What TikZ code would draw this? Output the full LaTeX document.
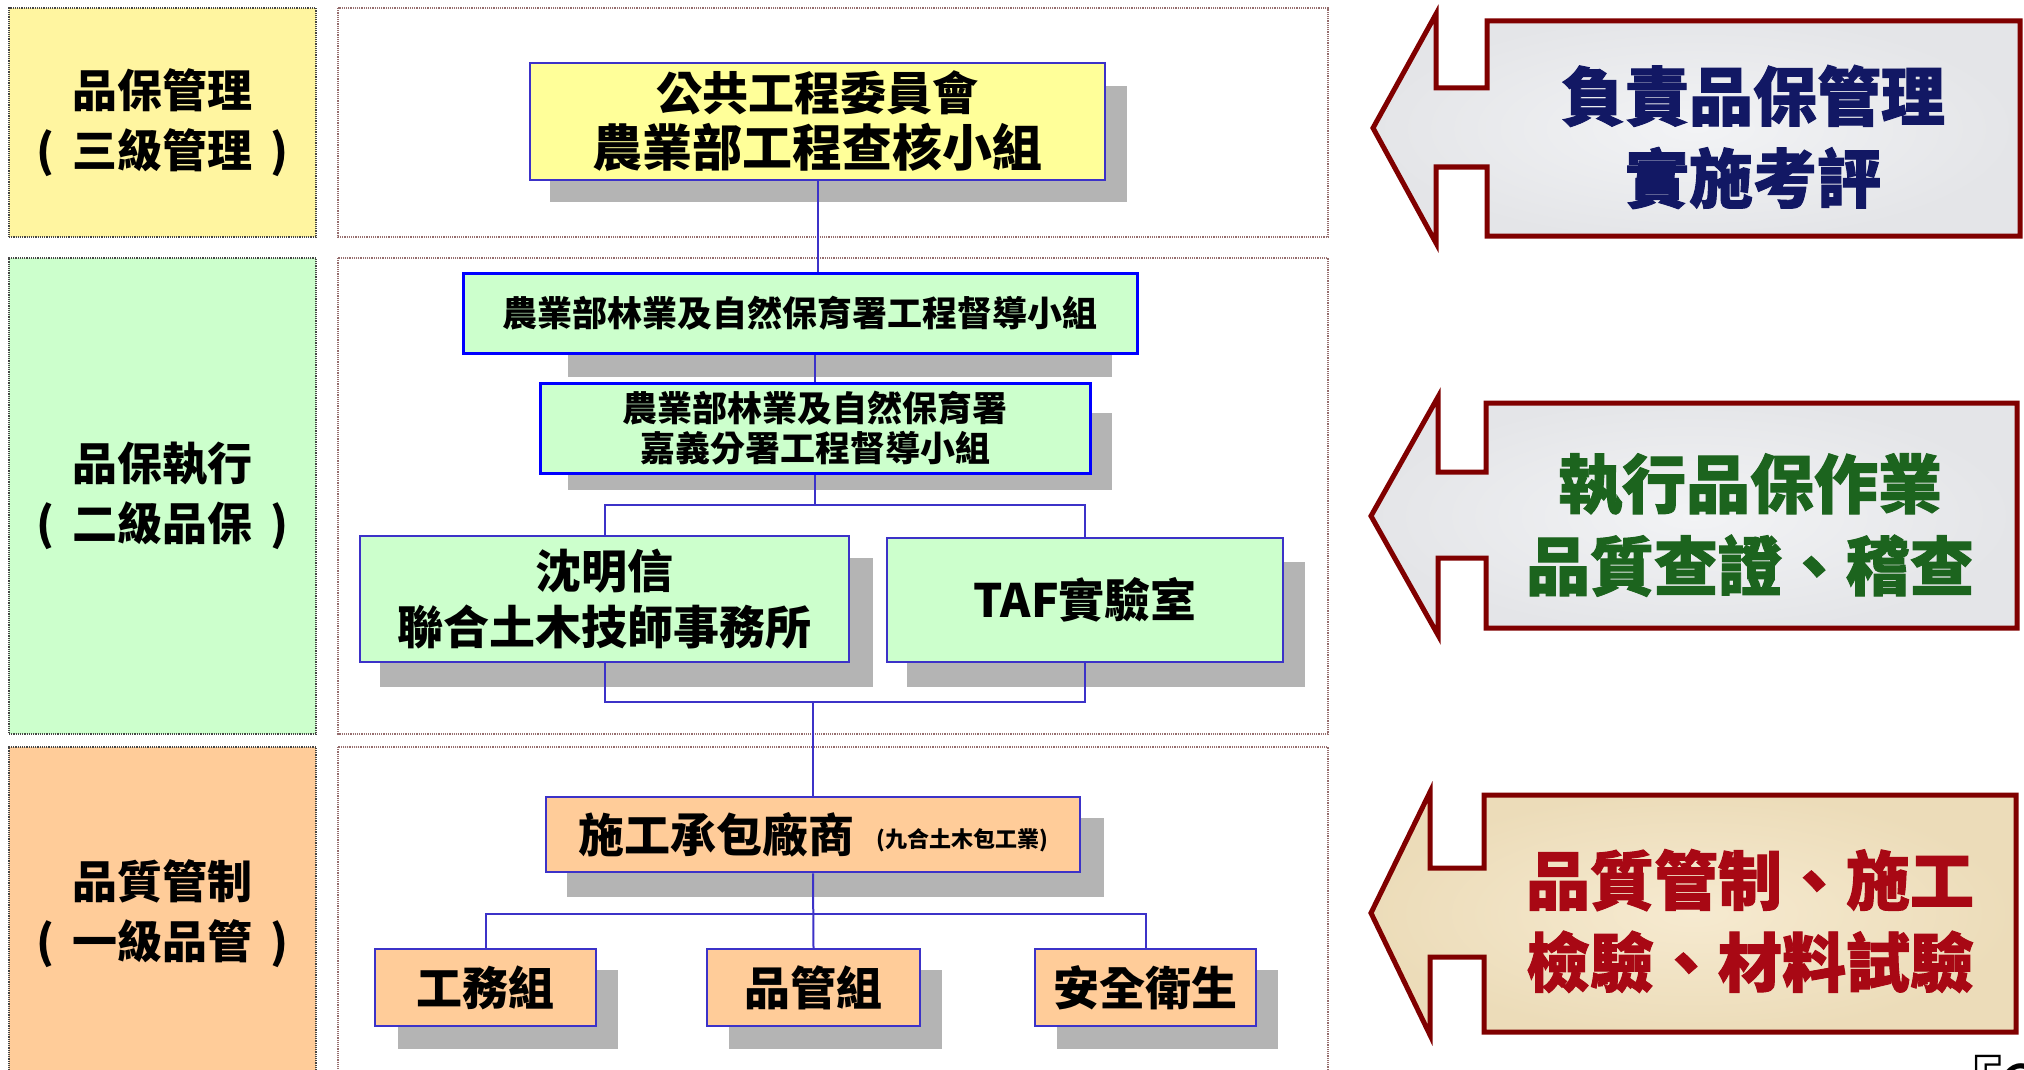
\documentclass[tikz,border=0pt]{standalone}
\usepackage{fontspec}
\setmainfont{Noto Sans CJK TC}
\newfontfamily\heavyfont{Noto Sans CJK TC}[BoldFeatures={FakeBold=1.5}]
\definecolor{lyel}{RGB}{255,245,160}
\definecolor{nyel}{RGB}{255,255,153}
\definecolor{lgrn}{RGB}{204,255,204}
\definecolor{lorg}{RGB}{255,204,153}
\definecolor{nblue}{RGB}{0,0,255}
\definecolor{pblue}{RGB}{60,50,200}
\definecolor{shd}{RGB}{180,180,180}
\definecolor{dred}{RGB}{128,0,0}
\definecolor{marble}{RGB}{228,229,232}
\definecolor{marbleb}{RGB}{242,243,245}
\definecolor{parch}{RGB}{236,220,185}
\definecolor{parchb}{RGB}{246,234,208}
\definecolor{tnavy}{RGB}{18,24,100}
\definecolor{tgreen}{RGB}{28,100,30}
\definecolor{tred}{RGB}{168,8,20}
\definecolor{pnlc}{RGB}{150,110,110}
\newcommand\arrpathA{(1373,128) -- (1436,14) -- (1436,88) -- (1487,88) -- (1487,21) -- (2020,21) -- (2020,236) -- (1487,236) -- (1487,167) -- (1436,167) -- (1436,243) -- cycle}
\newcommand\arrpathB{(1371,516) -- (1438,397) -- (1438,472) -- (1486,472) -- (1486,403) -- (2017,403) -- (2017,628) -- (1486,628) -- (1486,558) -- (1438,558) -- (1438,635) -- cycle}
\newcommand\arrpathC{(1371,913) -- (1430,792) -- (1430,868) -- (1484,868) -- (1484,795) -- (2016,795) -- (2016,1032) -- (1484,1032) -- (1484,957) -- (1430,957) -- (1430,1035) -- cycle}
\usetikzlibrary{calc}
\begin{document}
\begin{tikzpicture}[x=1pt,y=-1pt,
  lbl/.style={draw=gray!55!black, densely dotted, line width=1.2pt, align=center, inner sep=0pt, font=\bfseries\fontsize{45}{60}\selectfont},
  pnl/.style={draw=pnlc, densely dotted, line width=1.2pt},
  gbox/.style={draw=nblue, line width=3pt, fill=lgrn, align=center, inner sep=0pt, font=\bfseries\fontsize{35}{40}\selectfont},
  ybox/.style={draw=pblue, line width=2.5pt, fill=nyel, align=center, inner sep=0pt},
  obox/.style={draw=pblue, line width=2.5pt, fill=lorg, align=center, inner sep=0pt, font=\bfseries\fontsize{46}{56}\selectfont},
  shdw/.style={fill=shd},
  link/.style={draw=pblue, line width=2pt},
  arr/.style={draw=dred, line width=5pt, line join=miter, miter limit=20},
  atext/.style={align=center, inner sep=0pt, font=\heavyfont\bfseries\fontsize{64}{82}\selectfont}
]
\useasboundingbox (0,0) rectangle (2024,1070);
\fill[white] (0,0) rectangle (2024,1070);

% left level labels
\node[lbl, fill=lyel, minimum width=307pt, minimum height=229pt] (L1) at (162.5,122.5) {品保管理\\(\hspace{18pt}三級管理\hspace{18pt})};
\node[lbl, fill=lgrn, minimum width=307pt, minimum height=476pt] (L2) at (162.5,496) {品保執行\\(\hspace{18pt}二級品保\hspace{18pt})};
\node[lbl, fill=lorg, minimum width=307pt, minimum height=333pt] (L3) at (162.5,913.5) {品質管制\\(\hspace{18pt}一級品管\hspace{18pt})};

% panels
\draw[pnl] (338,8) rectangle (1328,237);
\draw[pnl] (338,258) rectangle (1328,734);
\draw[pnl] (338,747) rectangle (1328,1080);

% shadows
\fill[shdw] (550,86) rectangle (1127,202);
\fill[shdw] (568,300) rectangle (1112,377);
\fill[shdw] (568,413) rectangle (1112,490);
\fill[shdw] (380,558) rectangle (873,687);
\fill[shdw] (907,562) rectangle (1305,687);
\fill[shdw] (567,818) rectangle (1104,897);
\fill[shdw] (398,970) rectangle (618,1049);
\fill[shdw] (729,970) rectangle (942,1049);
\fill[shdw] (1057,970) rectangle (1278,1049);

% org nodes
\node[ybox, minimum width=575pt, minimum height=117pt, font=\bfseries\fontsize{46}{56}\selectfont] (n1) at (817.5,121.5) {公共工程委員會\\{\fontsize{50}{56}\selectfont 農業部工程查核小組}};
\node[gbox, minimum width=674pt, minimum height=80pt] (n2) at (800,313) {農業部林業及自然保育署工程督導小組};
\node[gbox, minimum width=550pt, minimum height=90pt] (n3) at (815,428) {農業部林業及自然保育署\\嘉義分署工程督導小組};
\node[gbox, draw=pblue, line width=2.5pt, minimum width=489pt, minimum height=126pt, font=\bfseries\fontsize{46}{56}\selectfont] (n4) at (604.5,599) {沈明信\\聯合土木技師事務所};
\node[gbox, draw=pblue, line width=2.5pt, minimum width=396pt, minimum height=124pt, font=\bfseries\fontsize{46}{56}\selectfont] (n5) at (1085,600) {TAF實驗室};
\node[obox, minimum width=534pt, minimum height=75pt] (n6) at (813,834.5) {施工承包廠商\hspace{22pt}\raisebox{5pt}{\fontsize{22}{26}\selectfont (九合土木包工業)}};
\node[obox, minimum width=221pt, minimum height=77pt] (n7) at (485.5,987.5) {工務組};
\node[obox, minimum width=213pt, minimum height=77pt] (n8) at (813.5,987.5) {品管組};
\node[obox, minimum width=221pt, minimum height=77pt] (n9) at (1145.5,987.5) {安全衛生};

% connectors
\coordinate (b1) at (815,505);
\coordinate (b2) at (813,702);
\coordinate (b3) at (813,914);
\draw[link] (n1.south) -- (n1.south |- n2.north);
\draw[link] (n3.north) -- (n3.north |- n2.south);
\draw[link] (n3.south) -- (b1);
\draw[link] (n4.north) |- (b1) -| (n5.north);
\draw[link] (n4.south) |- (b2) -| (n5.south);
\draw[link] (b2) -- (n6.north);
\draw[link] (n6.south) -- (n8.north);
\draw[link] (n7.north) |- (b3) -| (n9.north);

% right arrows (marble / parchment)
\shade[inner color=marbleb, outer color=marble] \arrpathA;
\draw[arr] \arrpathA;
\shade[inner color=marbleb, outer color=marble] \arrpathB;
\draw[arr] \arrpathB;
\shade[inner color=parchb, outer color=parch] \arrpathC;
\draw[arr] \arrpathC;

\node[atext, text=tnavy] (t1) at (1753,137) {負責品保管理\\實施考評};
\node[atext, text=tgreen] (t2) at (1750,525) {執行品保作業\\品質查證、稽查};
\node[atext, text=tred] (t3) at (1750,921) {品質管制、施工\\檢驗、材料試驗};

\node[anchor=base west, inner sep=0pt, font=\fontsize{70}{80}\selectfont] (pg) at (1933,1114) {『2};
\end{tikzpicture}
\end{document}
